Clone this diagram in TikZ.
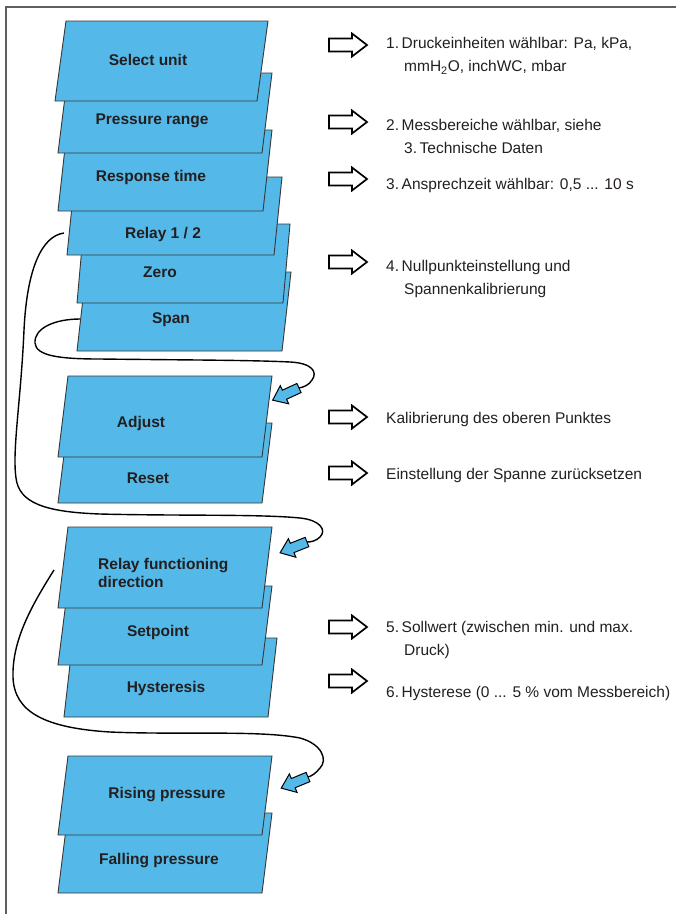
\documentclass[tikz,border=0pt]{standalone}
\usepackage{fontspec}
\setmainfont{Liberation Sans}
\definecolor{boxblue}{RGB}{84,185,232}
\definecolor{boxline}{RGB}{55,55,55}
\definecolor{txt}{RGB}{35,31,32}
\definecolor{framegray}{RGB}{95,95,95}
\newcommand\plgbox[5]{\filldraw[boxst] (#1,#2) -- ({#1+#3},#2) -- ({#1+#3+#5},#4) -- ({#1+#5},#4) -- cycle;}
\newcommand\nsp{\hspace{2.6pt}}
\begin{document}
\begin{tikzpicture}[x=1pt,y=-1pt,
  boxst/.style={fill=boxblue, draw=boxline, line width=0.9pt},
  lbl/.style={font=\fontsize{15.5}{18}\selectfont\bfseries, text=txt, inner sep=0pt, anchor=base},
  lblw/.style={font=\fontsize{15.5}{18}\selectfont\bfseries, text=txt, inner sep=0pt, anchor=base west},
  rt/.style={font=\fontsize{15.5}{18}\selectfont, text=txt, inner sep=0pt, anchor=base west},
  conn/.style={line width=1.4pt, black},
  hollowarr/.pic={\draw[line width=1.7pt, fill=white, line join=miter] (0,-6.5) -- (23,-6.5) -- (23,-11.5) -- (38,0) -- (23,11.5) -- (23,6.5) -- (0,6.5) -- cycle;},
  bluearr/.pic={\draw[line width=1pt, fill=boxblue, line join=miter] (0,-5) -- (16,-5) -- (16,-10) -- (29,0) -- (16,10) -- (16,5) -- (0,5) -- cycle;}
]
\useasboundingbox (0,0) rectangle (676,914);
\fill[white] (0,0) rectangle (676,914);
% frame
\draw[framegray, line width=1.5pt] (6,914) -- (6,7) -- (676,7);

% group 1 (drawn from back to front)
\plgbox{77}{351}{205}{272}{9}
\plgbox{77}{303}{206}{224}{7}
\plgbox{67}{255}{207}{177}{8}
\plgbox{58}{211}{205}{130}{9}
\plgbox{58}{153}{204}{73}{10}
\plgbox{55}{101}{202}{21}{11}
% group 2
\plgbox{58}{503}{204}{423}{10}
\plgbox{58}{457}{204}{376}{10}
% group 3
\plgbox{64}{717}{204}{638}{9}
\plgbox{58}{665}{204}{586}{10}
\plgbox{58}{608}{204}{527}{10}
% group 4
\plgbox{58}{893}{204}{813}{10}
\plgbox{58}{835}{204}{756}{10}

% box labels
\node[lbl] (sel) at (148,65.5) {Select unit};
\node[lbl] (pres) at (152,124.5) {Pressure range};
\node[lbl] (resp) at (151,181.5) {Response time};
\node[lbl] (rel) at (163,238.5) {Relay 1 / 2};
\node[lbl] (zero) at (160,277.5) {Zero};
\node[lbl] (span) at (171,323.5) {Span};
\node[lbl] (adj) at (141,427.5) {Adjust};
\node[lbl] (reset) at (148,483.5) {Reset};
\node[lblw] (rfd) at (98,569.5) {Relay functioning};
\node[lblw] (rfdb) at (98,587.5) {direction};
\node[lbl] (setp) at (158,636.5) {Setpoint};
\node[lbl] (hyst) at (166,692.5) {Hysteresis};
\node[lbl] (rise) at (167,798.5) {Rising pressure};
\node[lbl] (fall) at (159,864.5) {Falling pressure};

% hollow arrows
\pic (h1) at (329,45) {hollowarr};
\pic (h2) at (329,122) {hollowarr};
\pic (h3) at (329,179) {hollowarr};
\pic (h4) at (329,262) {hollowarr};
\pic (h5) at (329,417) {hollowarr};
\pic (h6) at (329,473) {hollowarr};
\pic (h7) at (329,627) {hollowarr};
\pic (h8) at (329,681) {hollowarr};

% right texts
\node[rt] (t1a) at (386,48.5) {1.\nsp Druckeinheiten wählbar: Pa, kPa,};
\node[rt] (t1b) at (404,71.5) {mmH\textsubscript{2}O, inchWC, mbar};
\node[rt] (t2a) at (386,130.5) {2.\nsp Messbereiche wählbar, siehe};
\node[rt] (t2b) at (404,153.5) {3.\nsp Technische Daten};
\node[rt] (t3a) at (386,189.5) {3.\nsp Ansprechzeit wählbar: 0,5 ... 10 s};
\node[rt] (t4a) at (386,271.5) {4.\nsp Nullpunkteinstellung und};
\node[rt] (t4b) at (404,294.5) {Spannenkalibrierung};
\node[rt] (tk) at (386,423.5) {Kalibrierung des oberen Punktes};
\node[rt] (te) at (386,479.5) {Einstellung der Spanne zurücksetzen};
\node[rt] (t5a) at (386,632.5) {5.\nsp Sollwert (zwischen min. und max.};
\node[rt] (t5b) at (404,655.5) {Druck)};
\node[rt] (t6a) at (386,697.5) {6.\nsp Hysterese (0 ... 5 \% vom Messbereich)};

% connector coordinates
\coordinate (c1s) at (80,319);
\coordinate (t1) at (299,388);
\coordinate (c2s) at (64,233);
\coordinate (t2) at (307,542);
\coordinate (c3s) at (54,570);
\coordinate (t3) at (308,777);

% Span -> Adjust
\draw[conn] (c1s) .. controls (55,319) and (34,328) .. (35,343)
  .. controls (36,356) and (60,359) .. (100,359)
  .. controls (180,360) and (250,360) .. (290,362)
  .. controls (312,363) and (318,372) .. (312,380)
  .. controls (309,385) and (304,387) .. (t1);
% Relay 1/2 -> Relay functioning direction
\draw[conn] (c2s) .. controls (42,236) and (27,268) .. (24,330)
  .. controls (21,400) and (12,450) .. (16,478)
  .. controls (19,503) and (45,512) .. (100,514)
  .. controls (180,516) and (260,514) .. (300,518)
  .. controls (320,520) and (327,530) .. (320,537)
  .. controls (316,541) and (311,542) .. (t2);
% Relay functioning direction -> Rising pressure
\draw[conn] (c3s) .. controls (32,605) and (12,640) .. (13,677)
  .. controls (14,712) and (45,728) .. (110,732)
  .. controls (180,735) and (260,730) .. (300,738)
  .. controls (322,744) and (328,760) .. (320,768)
  .. controls (316,773) and (312,776) .. (t3);

\pic[rotate=204.8] (b1) at (t1) {bluearr};
\pic[rotate=201.8] (b2) at (t2) {bluearr};
\pic[rotate=202.6] (b3) at (t3) {bluearr};
\end{tikzpicture}
\end{document}
